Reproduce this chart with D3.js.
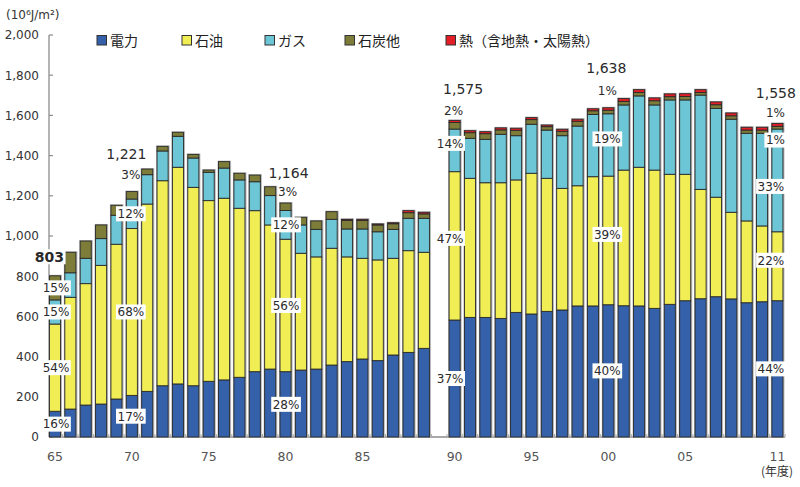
<!DOCTYPE html>
<html><head><meta charset="utf-8">
<script src="https://cdn.jsdelivr.net/npm/d3@7/dist/d3.min.js"></script>
<style>body{margin:0;background:#fff}svg{display:block}</style>
</head><body><svg id="chart" width="800" height="487"></svg>
<script>
// ---------- DATA ----------
const years = [1965,1966,1967,1968,1969,1970,1971,1972,1973,1974,1975,1976,1977,1978,1979,1980,1981,1982,1983,1984,1985,1986,1987,1988,1989,
               1990,1991,1992,1993,1994,1995,1996,1997,1998,1999,2000,2001,2002,2003,2004,2005,2006,2007,2008,2009,2010,2011];
const electricity = [128,139,159,164,189,207,227,255,264,255,277,284,297,325,338,325,333,338,358,375,388,380,408,421,441,
                     582,595,595,590,620,612,625,632,652,652,658,653,652,640,660,678,688,698,687,668,673,678];
const oil = [434,556,604,690,770,830,932,1020,1078,987,899,904,841,801,717,659,581,558,581,521,501,501,481,506,478,
             738,692,670,675,659,700,662,605,598,643,640,675,690,688,647,629,544,495,431,407,377,343];
const gas = [120,122,126,133,144,147,146,148,154,146,141,150,141,144,146,143,141,137,144,139,146,140,144,161,169,
             212,199,216,241,220,244,240,262,297,310,310,324,355,324,370,370,469,442,463,436,461,511];
const coal = [120,102,86,68,50,37,28,23,20,18,11,32,33,33,44,37,38,42,38,43,42,34,28,28,22,
              33,28,28,22,27,23,17,22,24,18,18,18,17,21,16,17,13,18,17,16,16,14];
const heat = [0,0,0,0,0,0,0,0,0,0,0,0,0,0,0,0,0,0,0,5,6,5,5,10,8,
              10,10,10,10,10,10,8,10,10,10,12,14,14,14,14,14,14,14,14,14,14,14];

const seriesNames = ["電力","石油","ガス","石炭他","熱（含地熱・太陽熱）"];
const seriesColors = ["#3461a9","#f1ed55","#6dc6d6","#7d7c39","#e31e26"];

const yTicks = [0,200,400,600,800,1000,1200,1400,1600,1800,2000];
const xTickYears = [1965,1970,1975,1980,1985,1990,1995,2000,2005,2011];
const xTickLabels = ["65","70","75","80","85","90","95","00","05","11"];

const labelYears = [1965,1970,1980,1990,2000,2011];
const totalLabels = ["803","1,221","1,164","1,575","1,638","1,558"];
const elecPct = ["16%","17%","28%","37%","40%","44%"];
const oilPct  = ["54%","68%","56%","47%","39%","22%"];
const gasPct  = ["15%","12%","12%","14%","19%","33%"];
const coalPct = ["15%","3%","3%","2%","1%","1%"];
const heatPct = ["","","","","","1%"];

// ---------- BUILD ----------
const keys = ["elec","oil","gas","coal","heat"];
const table = years.map((y,i)=>({year:y, elec:electricity[i], oil:oil[i], gas:gas[i], coal:coal[i], heat:heat[i]}));
const stacked = d3.stack().keys(keys)(table);

// slots: 1965..1989, one blank slot, 1990..2011
const slots = [];
years.forEach(y => { if (y===1990) slots.push("gap"); slots.push(String(y)); });

const svg = d3.select("#chart");
const x = d3.scaleBand().domain(slots).range([47.3, 785.1]).paddingInner(0.28).paddingOuter(0.14);
const y = d3.scaleLinear().domain([0,2000]).range([437,35]);

const NUM = "'DejaVu Sans', sans-serif";
const JP = "'Noto Sans CJK JP', sans-serif";

// axes
const axisColor = "#8c8c8c";
svg.append("line").attr("x1",49).attr("x2",49).attr("y1",y(2000)).attr("y2",y(0))
  .attr("stroke",axisColor).attr("stroke-width",1.3);
svg.append("line").attr("x1",49).attr("x2",785).attr("y1",y(0)).attr("y2",y(0))
  .attr("stroke",axisColor).attr("stroke-width",1.3);
svg.selectAll(".yt").data(yTicks).join("line")
  .attr("x1",49).attr("x2",53).attr("y1",d=>y(d)).attr("y2",d=>y(d))
  .attr("stroke",axisColor).attr("stroke-width",1.2);
svg.selectAll(".yl").data(yTicks).join("text")
  .attr("x",39).attr("y",d=>y(d)).attr("dy","0.36em").attr("text-anchor","end")
  .attr("font-family",NUM).attr("font-size",12).attr("fill","#333")
  .text(d=>d3.format(",")(d));
// x minor ticks between slots
const step = x.step();
svg.selectAll(".xm").data(slots).join("line")
  .attr("x1",d=>x(d)+x.bandwidth()+ (step-x.bandwidth())/2).attr("x2",d=>x(d)+x.bandwidth()+(step-x.bandwidth())/2)
  .attr("y1",y(0)-3).attr("y2",y(0))
  .attr("stroke","#aaa").attr("stroke-width",1);
svg.selectAll(".xl").data(xTickYears).join("text")
  .attr("x",(d)=>x(String(d))+x.bandwidth()/2).attr("y",456).attr("dy","0.36em")
  .attr("text-anchor","middle").attr("font-family",NUM).attr("font-size",12.5).attr("fill","#555")
  .text((d,i)=>xTickLabels[i]);
svg.append("text").attr("x",777).attr("y",472).attr("dy","0.36em").attr("text-anchor","middle")
  .attr("font-family",JP).attr("font-size",12).attr("fill","#333").text("(年度)");
svg.append("text").attr("x",6).attr("y",15).attr("dy","0.36em")
  .attr("font-family",NUM).attr("font-size",12).attr("fill","#333").text("(10⁶J/m²)");

// bars: halo
const totals = table.map(d=>d.elec+d.oil+d.gas+d.coal+d.heat);
svg.append("g").selectAll("rect").data(table).join("rect")
  .attr("x",d=>x(String(d.year))-1).attr("width",x.bandwidth()+2.5)
  .attr("y",(d,i)=>y(totals[i])-1).attr("height",(d,i)=>y(0)-y(totals[i])+1)
  .attr("fill","#b5b5b5");
// segments
const g = svg.append("g");
stacked.forEach((layer,k)=>{
  g.append("g").selectAll("rect").data(layer).join("rect")
    .attr("x",d=>x(String(d.data.year))).attr("width",x.bandwidth())
    .attr("y",d=>y(d[1])).attr("height",d=>Math.max(0,y(d[0])-y(d[1])))
    .attr("fill",seriesColors[k]).attr("stroke","#2a2a2a").attr("stroke-width",0.9);
});

// legend
const legendX = [97,182,265,345,446];
const leg = svg.append("g");
seriesNames.forEach((n,i)=>{
  leg.append("rect").attr("x",legendX[i]).attr("y",35.5).attr("width",9.5).attr("height",9.5)
    .attr("fill",seriesColors[i]).attr("stroke","#333").attr("stroke-width",1);
  leg.append("text").attr("x",legendX[i]+13).attr("y",40.5).attr("dy","0.36em")
    .attr("font-family",JP).attr("font-size",14).attr("fill","#222").text(n);
});

// ---------- ANNOTATIONS ----------
// layout tweaks (pixel offsets), per labelled year
const layout = {
  1965:{pdx:1, tdx:-5.5, tdy:-19, ody:0, gdy:0},
  1970:{pdx:-1, cdx:-1, cdy:-17, tdx:-5.5, tdy:-37.6, ody:0, gdy:0},
  1980:{pdx:0.5, cdx:2, cdy:-11.3, tdx:3, tdy:-29.7, ody:0, gdy:0},
  1990:{pdx:-4.5, cdx:-1, cdy:-9.7, tdx:8.5, tdy:-31.4, ody:-7.5, gdy:-7},
  2000:{pdx:-1, cdx:-1, cdy:-17, tdx:-2, tdy:-39.5, ody:-6, gdy:-6},
  2011:{pdx:-6.5, cdx:-2, cdy:0, hdx:-2, hdy:-10.5, tdx:-1.5, tdy:-30, ody:-6, gdy:6}
};
const ann = svg.append("g");
function label(cx, cy, txt, boxed, size, weight){
  const t = ann.append("text").attr("x",cx).attr("y",cy).attr("dy","0.36em").attr("text-anchor","middle")
    .attr("font-family",NUM).attr("font-size",size).attr("font-weight",weight||"normal")
    .attr("fill","#2a2a2a").text(txt);
  if (boxed){
    const b = t.node().getBBox();
    ann.insert("rect","text:last-child").attr("x",b.x-1.5).attr("y",cy-7.5).attr("width",b.width+3).attr("height",15)
      .attr("fill","#fff");
  }
}
labelYears.forEach((yr,i)=>{
  const idx = years.indexOf(yr);
  const d = table[idx];
  const L = layout[yr];
  const cx = x(String(yr)) + x.bandwidth()/2;
  const top = y(totals[idx]);
  const px = cx + L.pdx;
  label(px, y(d.elec/2), elecPct[i], true, 12);
  label(px, y(d.elec + d.oil/2) + L.ody, oilPct[i], true, 12);
  label(px, y(d.elec + d.oil + d.gas/2) + L.gdy, gasPct[i], true, 12);
  if (yr===1965) {
    label(px, y(d.elec + d.oil + d.gas + d.coal/2), coalPct[i], true, 12);
  } else if (yr===2011) {
    label(cx + L.cdx, y(d.elec + d.oil + d.gas) + 11, coalPct[i], true, 12);
    label(cx + L.hdx, top + L.hdy, heatPct[i], false, 12);
  } else {
    label(cx + L.cdx, top + L.cdy, coalPct[i], false, 12);
  }
  if (yr===1965) label(cx + L.tdx, top + L.tdy, totalLabels[i], true, 14, "bold");
  else label(cx + L.tdx, top + L.tdy, totalLabels[i], false, 14);
});
</script></body></html>
